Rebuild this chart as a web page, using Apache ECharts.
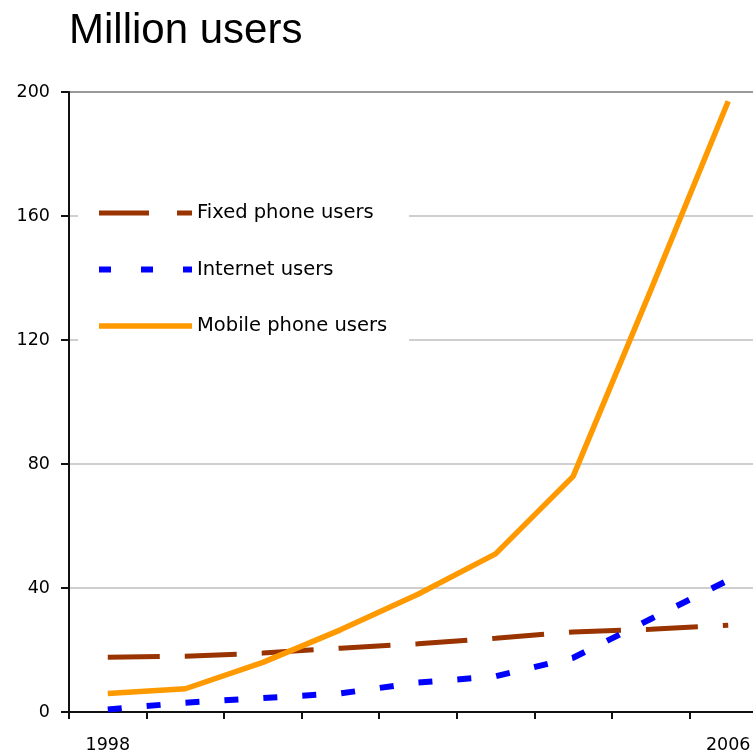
<!DOCTYPE html>
<html>
<head>
<meta charset="utf-8">
<script src="https://cdn.jsdelivr.net/npm/echarts@6/dist/echarts.min.js"></script>
<style>
html,body{margin:0;padding:0;background:#fff;}
#chart{width:753px;height:755px;}
</style>
</head>
<body>
<div id="chart"></div>
<script>
var years = ['1998','1999','2000','2001','2002','2003','2004','2005','2006'];
var fixedUsers = [17.7, 18, 19, 20.6, 22, 23.8, 25.8, 26.7, 28];
var internetUsers = [0.8, 3, 4.5, 6, 9.5, 11.5, 17.5, 30, 42.5];
var mobileUsers = [6, 7.5, 16, 26.5, 38, 51, 76, 136, 197];
var yTicks = [0, 40, 80, 120, 160, 200];

var chart = echarts.init(document.getElementById('chart'), null, {renderer: 'canvas'});
chart.setOption({
  animation: false,
  backgroundColor: '#fff',
  title: {
    text: 'Million users',
    left: 64,
    top: 5,
    textStyle: {fontFamily: 'Liberation Sans', fontSize: 42, fontWeight: 'normal', color: '#000'}
  },
  legend: {
    orient: 'vertical',
    left: 78,
    top: 185,
    padding: [18, 22, 12, 18],
    backgroundColor: '#fff',
    itemWidth: 93,
    itemHeight: 20,
    itemGap: 36.5,
    itemStyle: {opacity: 0},
    textStyle: {fontFamily: 'DejaVu Sans', fontSize: 19.5, color: '#000'},
    data: [
      {name: 'Fixed phone users', itemStyle: {opacity: 0}, lineStyle: {color: '#993300', width: 5, type: [50, 28]}},
      {name: 'Internet users', itemStyle: {opacity: 0}, lineStyle: {color: '#0000ff', width: 6, type: [12, 30]}},
      {name: 'Mobile phone users', itemStyle: {opacity: 0}, lineStyle: {color: '#ff9900', width: 5.5, type: 'solid'}}
    ]
  },
  grid: {left: 69, right: -14, top: 92, bottom: 43, containLabel: false, outerBoundsMode: 'none'},
  xAxis: {
    type: 'category',
    data: years,
    boundaryGap: true,
    axisLine: {lineStyle: {color: '#111', width: 2}},
    axisTick: {show: true, interval: 0, length: 7, lineStyle: {color: '#111', width: 2}},
    axisLabel: {interval: 7, margin: 24, fontFamily: 'DejaVu Sans', fontSize: 17.5, color: '#000'},
    splitLine: {show: false}
  },
  yAxis: {
    type: 'value',
    min: 0,
    max: 200,
    interval: 40,
    axisLine: {show: true, lineStyle: {color: '#111', width: 2}},
    axisTick: {show: true, length: 8, lineStyle: {color: '#111', width: 2}},
    axisLabel: {margin: 19, fontFamily: 'DejaVu Sans', fontSize: 17.5, color: '#000',
      formatter: function (v) { return yTicks.indexOf(v) >= 0 ? String(v) : ''; }},
    splitLine: {show: true, lineStyle: {color: ['#cfcfcf','#cfcfcf','#cfcfcf','#cfcfcf','#cfcfcf','#999'], width: 2}}
  },
  series: [
    {
      name: 'Fixed phone users',
      type: 'line',
      data: fixedUsers,
      symbol: 'none',
      color: '#993300',
      lineStyle: {color: '#993300', width: 5, type: [52, 25]}
    },
    {
      name: 'Internet users',
      type: 'line',
      data: internetUsers,
      symbol: 'none',
      color: '#0000ff',
      lineStyle: {color: '#0000ff', width: 6, type: [14, 25]}
    },
    {
      name: 'Mobile phone users',
      type: 'line',
      data: mobileUsers,
      symbol: 'none',
      color: '#ff9900',
      lineStyle: {color: '#ff9900', width: 5.5}
    }
  ]
});
</script>
</body>
</html>
